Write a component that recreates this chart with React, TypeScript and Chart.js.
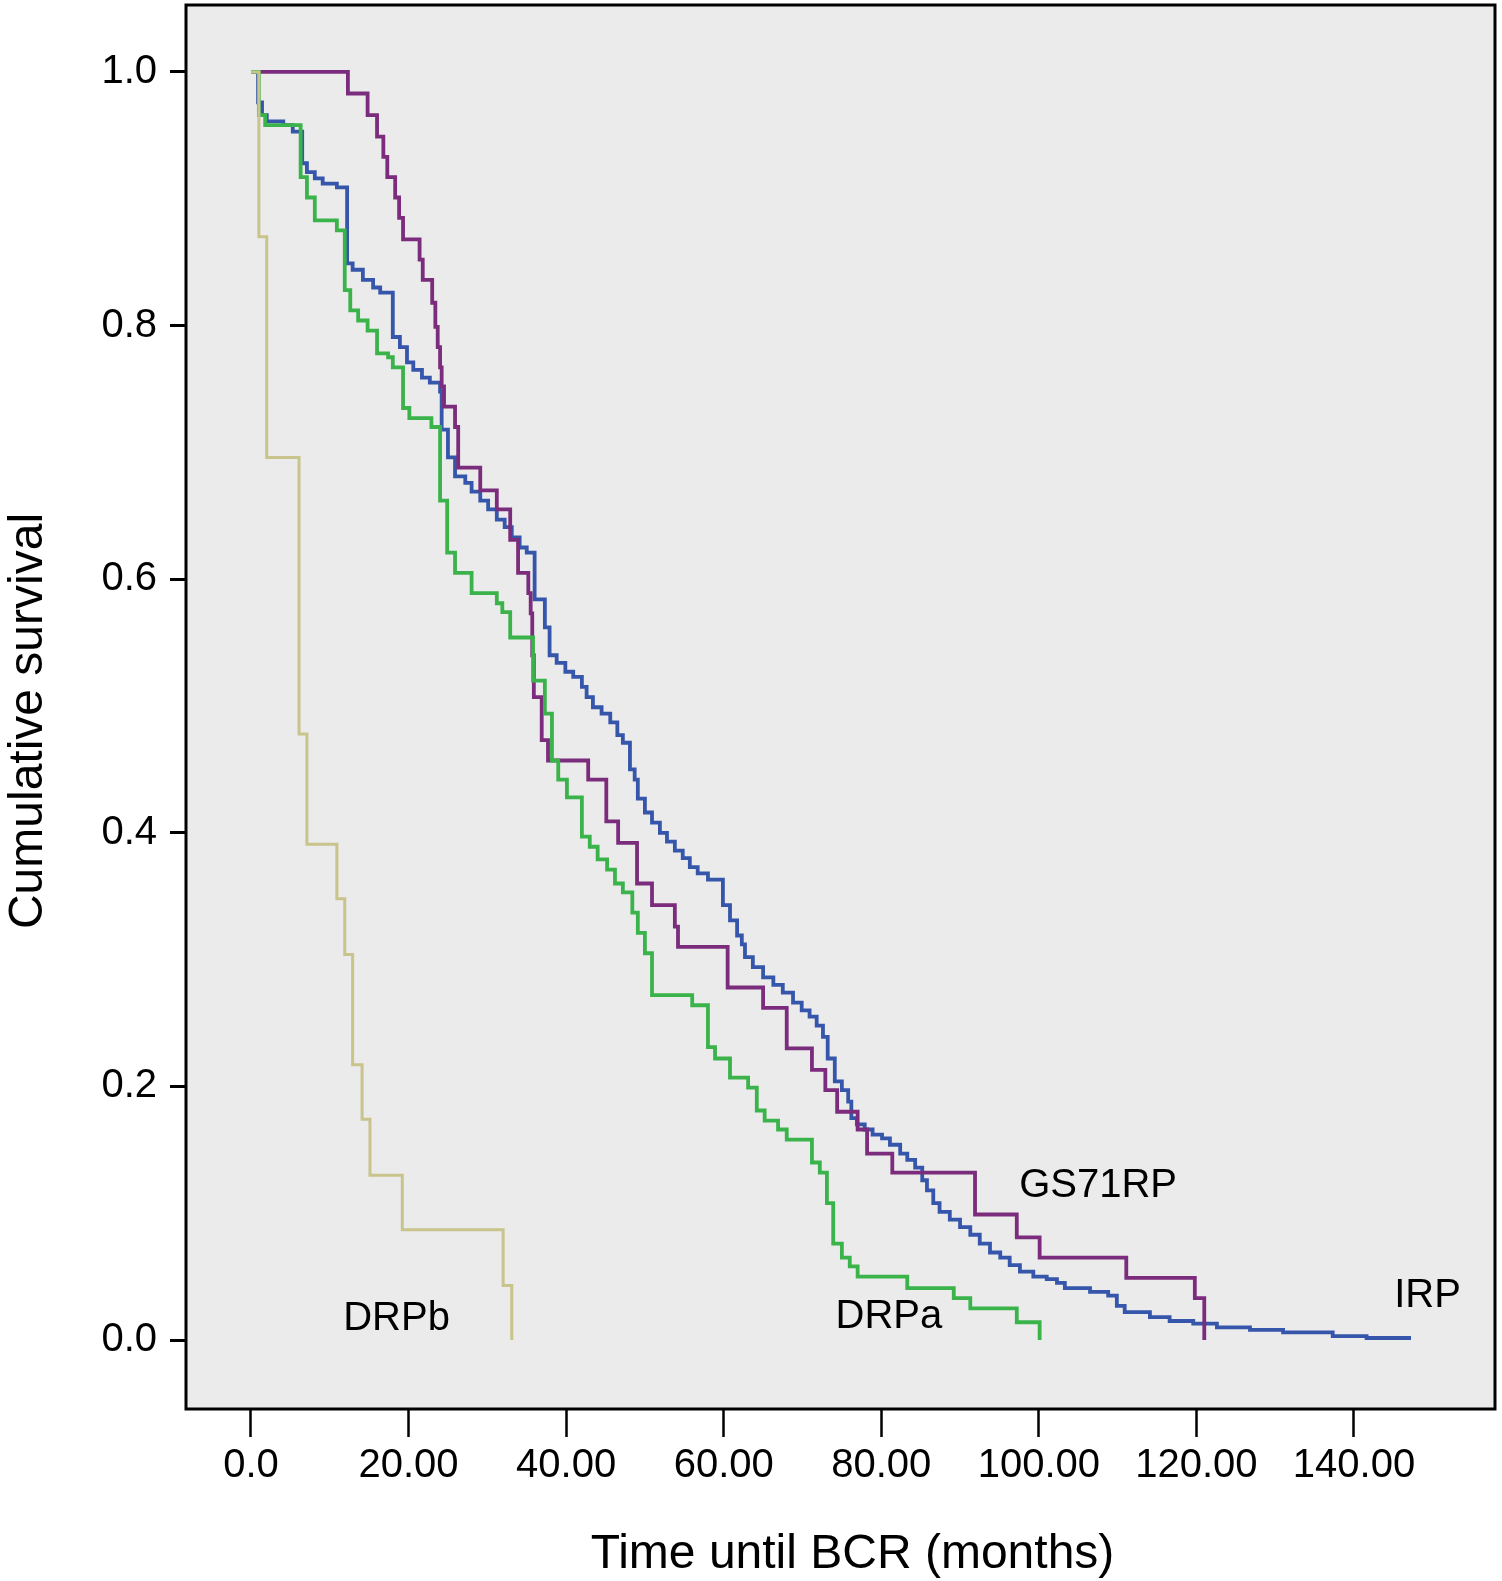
import React, { useEffect, useRef } from 'react';
import { Chart, registerables } from 'chart.js';

Chart.register(...registerables);

// ---- Data (time in months, cumulative survival) ----
const drpbTime = [0, 1.0, 2.0, 6.1, 7.1, 10.9, 11.9, 12.9, 14.1, 15.1, 19.2, 32.0, 33.1];
const drpbSurv = [1.0, 0.87, 0.696, 0.478, 0.391, 0.348, 0.304, 0.217, 0.174, 0.13, 0.087, 0.043, 0.0];

const drpaTime = [0, 1.0, 1.8, 6.3, 7.1, 8.1, 10.9, 11.9, 12.6, 13.6, 14.8, 16.0, 17.4, 18.0, 19.3, 20.1, 22.9, 24.0, 24.9, 25.9, 28.0, 31.2, 31.9, 32.9, 35.8, 37.3, 38.2, 39.0, 40.1, 42.0, 43.0, 44.0, 45.2, 46.2, 47.2, 48.4, 49.1, 50.0, 50.9, 56.0, 58.0, 58.9, 60.8, 63.1, 64.2, 65.2, 66.9, 68.0, 71.2, 72.2, 73.1, 73.9, 75.0, 76.0, 77.0, 83.3, 89.2, 91.3, 97.2, 100.1];
const drpaSurv = [1.0, 0.966, 0.958, 0.917, 0.901, 0.883, 0.875, 0.828, 0.812, 0.804, 0.796, 0.778, 0.775, 0.767, 0.735, 0.727, 0.72, 0.662, 0.621, 0.605, 0.589, 0.581, 0.574, 0.554, 0.52, 0.494, 0.457, 0.442, 0.428, 0.397, 0.389, 0.379, 0.371, 0.36, 0.353, 0.337, 0.321, 0.305, 0.272, 0.264, 0.231, 0.222, 0.207, 0.199, 0.181, 0.173, 0.166, 0.158, 0.14, 0.132, 0.108, 0.076, 0.065, 0.058, 0.05, 0.041, 0.033, 0.025, 0.014, 0.0];

const gsTime = [0, 12.3, 14.8, 16.0, 16.8, 17.3, 18.3, 18.8, 19.3, 21.4, 21.8, 23.0, 23.4, 23.7, 24.0, 24.2, 24.5, 25.9, 26.3, 29.1, 31.2, 32.9, 33.9, 35.2, 35.5, 35.7, 35.9, 36.9, 37.7, 42.8, 45.1, 46.6, 49.0, 50.9, 53.8, 54.2, 60.5, 65.0, 68.0, 71.2, 72.9, 74.4, 77.0, 78.2, 81.4, 91.9, 97.2, 100.1, 111.1, 119.8, 121.0];
const gsSurv = [1.0, 0.983, 0.966, 0.949, 0.933, 0.917, 0.901, 0.885, 0.868, 0.852, 0.836, 0.818, 0.799, 0.783, 0.767, 0.752, 0.736, 0.72, 0.688, 0.67, 0.655, 0.631, 0.605, 0.589, 0.573, 0.54, 0.507, 0.473, 0.457, 0.442, 0.409, 0.392, 0.36, 0.343, 0.326, 0.31, 0.278, 0.262, 0.23, 0.213, 0.197, 0.18, 0.166, 0.147, 0.132, 0.099, 0.081, 0.065, 0.049, 0.033, 0.0];

const irpTime = [0, 0.9, 1.4, 2.0, 4.1, 5.3, 6.5, 7.1, 8.1, 9.1, 10.9, 12.2, 12.9, 14.2, 15.5, 16.4, 18.0, 18.9, 19.8, 20.6, 21.7, 22.7, 24.0, 24.2, 25.0, 25.9, 27.2, 28.0, 29.1, 30.1, 31.2, 32.2, 33.1, 34.1, 35.0, 36.0, 37.3, 37.9, 38.8, 39.9, 40.9, 42.0, 42.6, 43.4, 44.5, 45.6, 46.5, 47.2, 48.1, 48.7, 49.1, 50.0, 50.9, 51.9, 52.8, 53.8, 54.8, 55.7, 56.7, 58.0, 59.9, 60.8, 61.7, 62.3, 62.7, 63.7, 65.0, 66.3, 67.5, 68.8, 69.9, 70.9, 71.8, 72.6, 73.2, 74.1, 75.0, 75.8, 76.2, 76.9, 77.9, 78.9, 80.1, 81.1, 82.4, 83.3, 84.3, 85.2, 85.8, 86.6, 87.4, 88.7, 90.0, 91.3, 92.5, 93.8, 95.1, 96.3, 97.6, 99.3, 101.0, 102.3, 103.3, 106.5, 108.8, 109.9, 110.9, 114.1, 116.6, 119.6, 122.6, 126.8, 131.0, 137.3, 141.6, 147.0];
const irpSurv = [1.0, 0.976, 0.966, 0.961, 0.958, 0.953, 0.928, 0.921, 0.916, 0.912, 0.909, 0.849, 0.844, 0.836, 0.83, 0.826, 0.791, 0.783, 0.771, 0.765, 0.759, 0.755, 0.748, 0.718, 0.696, 0.681, 0.676, 0.669, 0.662, 0.655, 0.647, 0.641, 0.633, 0.625, 0.621, 0.584, 0.562, 0.54, 0.534, 0.527, 0.523, 0.515, 0.507, 0.499, 0.494, 0.487, 0.477, 0.471, 0.45, 0.442, 0.427, 0.416, 0.408, 0.4, 0.393, 0.386, 0.38, 0.373, 0.368, 0.363, 0.343, 0.331, 0.319, 0.312, 0.302, 0.294, 0.286, 0.28, 0.274, 0.266, 0.26, 0.255, 0.248, 0.239, 0.222, 0.204, 0.197, 0.188, 0.175, 0.17, 0.166, 0.162, 0.159, 0.154, 0.147, 0.142, 0.136, 0.126, 0.118, 0.108, 0.101, 0.095, 0.089, 0.083, 0.076, 0.069, 0.065, 0.059, 0.054, 0.05, 0.048, 0.045, 0.041, 0.038, 0.035, 0.027, 0.022, 0.018, 0.015, 0.013, 0.01, 0.008, 0.006, 0.003, 0.0016, 0.0];

const seriesNames = ['DRPb', 'DRPa', 'GS71RP', 'IRP'];

const xTickValues = [0, 20, 40, 60, 80, 100, 120, 140];
const xTickLabels = ['0.0', '20.00', '40.00', '60.00', '80.00', '100.00', '120.00', '140.00'];
const yTickValues = [0, 0.2, 0.4, 0.6, 0.8, 1.0];
const yTickLabels = ['0.0', '0.2', '0.4', '0.6', '0.8', '1.0'];

const xTitle = 'Time until BCR (months)';
const yTitle = 'Cumulative survival';

// ---- Styling / layout ----
const FONT = '"Liberation Sans", Arial, Helvetica, sans-serif';
const COLORS = ['#c9c38c', '#3ab34b', '#7b2c7c', '#3556aa'];
const WIDTHS = [3, 3.8, 3.8, 3.8];
const labelAnchors = [
  { x: 11.7, y: 0.008 },
  { x: 74.2, y: 0.0095 },
  { x: 97.5, y: 0.113 },
  { x: 145.1, y: 0.026 },
];

const toPoints = (t: number[], s: number[]) => t.map((v, i) => ({ x: v, y: s[i] }));

const framePlugin = {
  id: 'frame',
  beforeDraw(chart: any) {
    const { ctx, chartArea } = chart;
    ctx.save();
    ctx.fillStyle = '#ebebeb';
    ctx.fillRect(chartArea.left, chartArea.top, chartArea.right - chartArea.left, chartArea.bottom - chartArea.top);
    ctx.restore();
  },
  afterDraw(chart: any) {
    const { ctx, chartArea, scales } = chart;
    ctx.save();
    // curve labels
    ctx.fillStyle = '#000';
    ctx.font = `40px ${FONT}`;
    ctx.textAlign = 'left';
    ctx.textBaseline = 'alphabetic';
    seriesNames.forEach((name, i) => {
      const a = labelAnchors[i];
      ctx.fillText(name, scales.x.getPixelForValue(a.x), scales.y.getPixelForValue(a.y));
    });
    // axis titles
    ctx.font = `48px ${FONT}`;
    ctx.textAlign = 'center';
    ctx.textBaseline = 'middle';
    const cx = (chartArea.left + chartArea.right) / 2 + 12;
    ctx.fillText(xTitle, cx, chart.height - 26);
    ctx.save();
    const cy = (chartArea.top + chartArea.bottom) / 2 + 14;
    ctx.translate(29, cy);
    ctx.rotate(-Math.PI / 2);
    ctx.fillText(yTitle, 0, 0);
    ctx.restore();
    // frame
    ctx.strokeStyle = '#000';
    ctx.lineWidth = 3;
    ctx.strokeRect(chartArea.left, chartArea.top, chartArea.right - chartArea.left, chartArea.bottom - chartArea.top);
    ctx.restore();
  },
};

export default function App() {
  const ref = useRef<HTMLCanvasElement>(null);

  useEffect(() => {
    document.body.style.margin = '0';
    const canvas = ref.current;
    if (!canvas) return;
    const series = [
      toPoints(drpbTime, drpbSurv),
      toPoints(drpaTime, drpaSurv),
      toPoints(gsTime, gsSurv),
      toPoints(irpTime, irpSurv),
    ];
    const chart = new Chart(canvas, {
      type: 'line',
      data: {
        datasets: series.map((d, i) => ({
          label: seriesNames[i],
          data: d,
          borderColor: COLORS[i],
          backgroundColor: COLORS[i],
          borderWidth: WIDTHS[i],
          pointRadius: 0,
          stepped: 'before' as const,
          fill: false,
        })),
      },
      options: {
        animation: false,
        responsive: true,
        maintainAspectRatio: false,
        devicePixelRatio: 1,
        layout: { padding: { top: 5, right: 7, left: 0, bottom: 0 } },
        plugins: {
          legend: { display: false },
          tooltip: { enabled: false },
        },
        scales: {
          x: {
            type: 'linear',
            min: -8.25,
            max: 157.9,
            afterBuildTicks: (s: any) => {
              s.ticks = xTickValues.map((v) => ({ value: v }));
            },
            afterFit: (s: any) => {
              s.height = 172;
              s.paddingLeft = 0;
              s.paddingRight = 0;
            },
            ticks: {
              callback: (v: any) => xTickLabels[xTickValues.indexOf(Number(v))],
              font: { size: 40, family: FONT },
              color: '#000',
              padding: 5,
              maxRotation: 0,
              autoSkip: false,
            },
            grid: {
              display: true,
              drawOnChartArea: false,
              drawTicks: true,
              tickLength: 28,
              tickWidth: 2.5,
              tickColor: '#000',
            },
            border: { display: false },
            title: { display: false },
          },
          y: {
            type: 'linear',
            min: -0.0544,
            max: 1.0528,
            afterBuildTicks: (s: any) => {
              s.ticks = yTickValues.map((v) => ({ value: v }));
            },
            afterFit: (s: any) => {
              s.width = 186;
              s.paddingTop = 0;
              s.paddingBottom = 0;
            },
            ticks: {
              callback: (v: any) => {
                const i = yTickValues.findIndex((t) => Math.abs(t - Number(v)) < 1e-6);
                return yTickLabels[i];
              },
              font: { size: 40, family: FONT },
              color: '#000',
              padding: 13,
              autoSkip: false,
            },
            grid: {
              display: true,
              drawOnChartArea: false,
              drawTicks: true,
              tickLength: 16,
              tickWidth: 3,
              tickColor: '#000',
            },
            border: { display: false },
            title: { display: false },
          },
        },
      },
      plugins: [framePlugin],
    });
    return () => chart.destroy();
  }, []);

  return (
    <div style={{ position: 'relative', width: 1502, height: 1581 }}>
      <canvas ref={ref} />
    </div>
  );
}
